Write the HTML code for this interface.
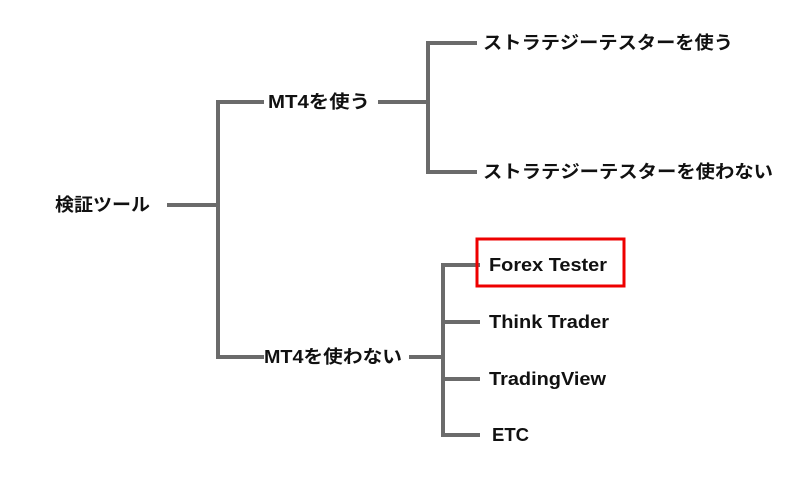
<!DOCTYPE html>
<html><head><meta charset="utf-8"><style>
body{margin:0;background:#fff;width:800px;height:480px;overflow:hidden}
svg text{font-family:"Liberation Sans","Noto Sans CJK JP",sans-serif;font-weight:bold;font-size:18px;fill:#111;dominant-baseline:central}
</style></head><body>
<svg width="800" height="480" viewBox="0 0 800 480">
<g stroke="#6b6b6b" stroke-width="4" fill="none" stroke-linecap="square">
<line x1="169" y1="205" x2="218" y2="205"/>
<polyline points="262,102 218,102 218,357 262,357"/>
<line x1="380" y1="102" x2="428" y2="102"/>
<polyline points="475,43 428,43 428,172 475,172"/>
<line x1="411" y1="357" x2="443" y2="357"/>
<line x1="443" y1="265" x2="443" y2="435"/>
<line x1="443" y1="265" x2="478" y2="265"/>
<line x1="443" y1="322" x2="478" y2="322"/>
<line x1="443" y1="379" x2="478" y2="379"/>
<line x1="443" y1="435" x2="478" y2="435"/>
</g>
<rect x="477" y="239" width="147" height="47" fill="none" stroke="#e00" stroke-width="3"/>
<text x="55" y="205" textLength="95" lengthAdjust="spacingAndGlyphs">検証ツール</text>
<text x="268" y="102" textLength="102" lengthAdjust="spacingAndGlyphs">MT4を使う</text>
<text x="264" y="357" textLength="138" lengthAdjust="spacingAndGlyphs">MT4を使わない</text>
<text x="483" y="43" textLength="250" lengthAdjust="spacingAndGlyphs">ストラテジーテスターを使う</text>
<text x="483" y="172" textLength="290" lengthAdjust="spacingAndGlyphs">ストラテジーテスターを使わない</text>
<text x="489" y="265" textLength="118" lengthAdjust="spacingAndGlyphs">Forex Tester</text>
<text x="489" y="322" textLength="120" lengthAdjust="spacingAndGlyphs">Think Trader</text>
<text x="489" y="379" textLength="117" lengthAdjust="spacingAndGlyphs">TradingView</text>
<text x="492" y="435" textLength="37" lengthAdjust="spacingAndGlyphs">ETC</text>
</svg>
</body></html>
